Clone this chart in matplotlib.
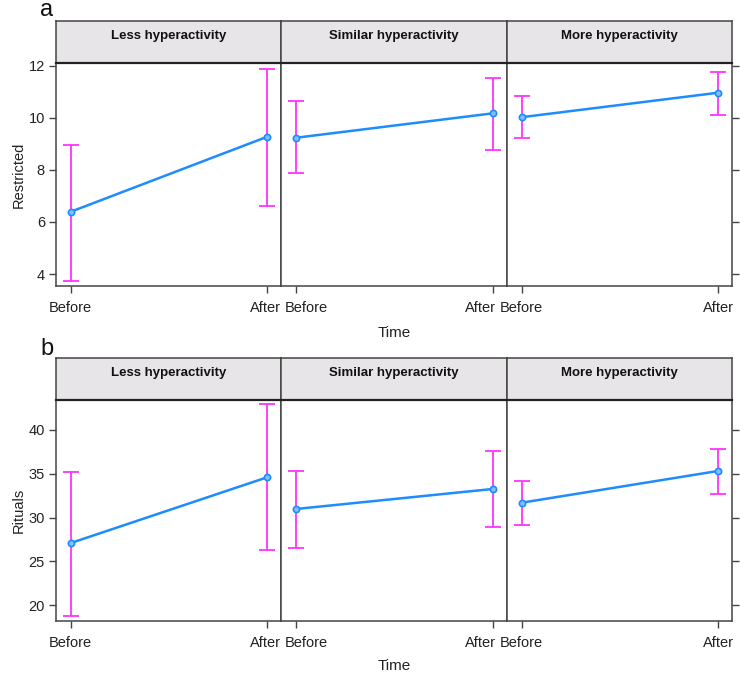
import matplotlib
matplotlib.use("Agg")
import matplotlib.pyplot as plt
import numpy as np

plt.rcParams['font.family'] = ['Liberation Sans', 'DejaVu Sans']

groups = ["Less hyperactivity", "Similar hyperactivity", "More hyperactivity"]
times = ["Before", "After"]

# Panel a: Restricted
restricted_mean = [[6.39, 9.27], [9.23, 10.17], [10.02, 10.96]]
restricted_lo = [[3.74, 6.62], [7.86, 8.76], [9.22, 10.11]]
restricted_hi = [[8.96, 11.87], [10.63, 11.52], [10.83, 11.74]]
restricted_ticks = [4, 6, 8, 10, 12]

# Panel b: Rituals
rituals_mean = [[27.09, 34.59], [30.97, 33.26], [31.69, 35.31]]
rituals_lo = [[18.78, 26.29], [26.51, 28.88], [29.10, 32.69]]
rituals_hi = [[35.24, 42.90], [35.35, 37.64], [34.20, 37.83]]
rituals_ticks = [20, 25, 30, 35, 40]

W, H = 740, 673
fig = plt.figure(figsize=(W / 100, H / 100), dpi=100)

LINE = "#1E8CFF"
ERR = "#FF33FF"
STRIP = "#E7E5E7"
FRAME = "#444444"
TXT = "#222222"

xpix = [56, 281, 507, 732]
# horizontal nudges (pixels) of the x tick labels, as in the reference
label_shift = [[0, -2], [11, -13], [0, 0]]


def fx(p):
    return p / W


def fy(p):
    return 1 - p / H


def draw_row(strip_top, strip_bot, panel_bot, means, los, his, yticks, ylim, ylabel, letter, letter_y, xlabpad):
    for i in range(3):
        x0, x1 = xpix[i], xpix[i + 1]
        ax = fig.add_axes([fx(x0), fy(panel_bot), fx(x1) - fx(x0), fy(strip_bot) - fy(panel_bot)])
        xs = np.arange(len(times))
        m = np.array(means[i])
        lo = np.array(los[i])
        hi = np.array(his[i])
        ax.errorbar(xs, m, yerr=[m - lo, hi - m], fmt="none", ecolor=ERR,
                    elinewidth=1.3, capsize=6, capthick=1.3, zorder=2)
        ax.plot(xs, m, color=LINE, lw=1.8, marker="o", ms=4.5,
                mfc="#7FBFFF", mec=LINE, mew=1.2, zorder=3)
        ax.set_xlim(-0.075, 1.07)
        ax.set_ylim(*ylim)
        ax.set_xticks(xs)
        ax.set_xticklabels([])
        for xv, lab, dx in zip(xs, times, label_shift[i]):
            ax.annotate(lab, xy=(xv, 0), xycoords=("data", "axes fraction"),
                        xytext=(dx, -15), textcoords="offset pixels",
                        ha="center", va="top", fontsize=10.5, color=TXT,
                        annotation_clip=False)
        ax.set_yticks(yticks)
        ax.tick_params(axis="both", direction="out", length=5, width=1, color=FRAME, pad=7)
        if i == 0:
            ax.set_yticklabels([str(t) for t in yticks], fontsize=10.5, color=TXT)
            ax.tick_params(axis="y", left=True, right=False, pad=3)
            ax.set_ylabel(ylabel, fontsize=10.5, color=TXT, labelpad=2)
        elif i == 2:
            ax.tick_params(axis="y", left=False, right=True, labelleft=False, labelright=False)
        else:
            ax.tick_params(axis="y", left=False, right=False, labelleft=False)
        for s in ax.spines.values():
            s.set_color(FRAME)
            s.set_linewidth(1.1)
        if i == 1:
            ax.set_xlabel("Time", fontsize=11, color=TXT, labelpad=xlabpad)
        # strip
        sax = fig.add_axes([fx(x0), fy(strip_bot), fx(x1) - fx(x0), fy(strip_top) - fy(strip_bot)])
        sax.set_facecolor(STRIP)
        sax.set_xticks([])
        sax.set_yticks([])
        for s in sax.spines.values():
            s.set_color(FRAME)
            s.set_linewidth(1.1)
        sax.spines["bottom"].set_linewidth(1.6)
        sax.spines["bottom"].set_color("#222222")
        sax.text(0.5, 0.64, groups[i], ha="center", va="center", fontsize=9.5,
                 fontweight="bold", color="#111111", transform=sax.transAxes)
    fig.text(fx(47), fy(letter_y), letter, fontsize=17, ha="center", va="baseline", color="#111111")


draw_row(21, 63, 286, restricted_mean, restricted_lo, restricted_hi,
         restricted_ticks, (3.54, 12.1), "Restricted", "a", 16, 17)
draw_row(358, 400, 621, rituals_mean, rituals_lo, rituals_hi,
         rituals_ticks, (18.2, 43.4), "Rituals", "b", 355, 15)

fig.savefig("out.png", dpi=100)
